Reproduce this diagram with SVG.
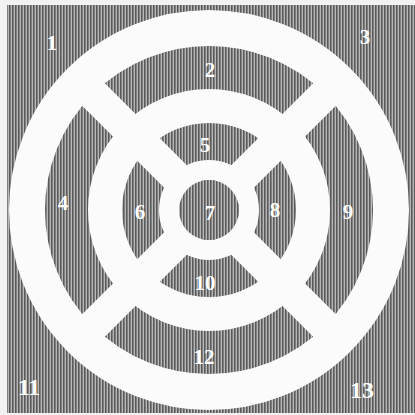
<svg xmlns="http://www.w3.org/2000/svg" width="415" height="415" viewBox="0 0 415 415">
  <defs>
    <pattern id="hatch" width="3" height="3" patternUnits="userSpaceOnUse">
      <rect width="3" height="3" fill="#b8b8b8"/>
      <rect width="1.6" height="3" fill="#5a5a5a"/>
    </pattern>
  </defs>
  <style>
    .ring { fill: none; stroke: #fbfbfb; }
    .bar { stroke: #fbfbfb; stroke-width: 32; stroke-linecap: butt; }
    .lbl { font-family: "Liberation Serif", "DejaVu Serif", serif; font-size: 21px; font-weight: bold; fill: #ffffff; text-anchor: middle; dominant-baseline: central; }
    .big { font-size: 24px; }
  </style>
  <rect x="0" y="0" width="415" height="415" fill="#f2f2f2"/>
  <rect id="background" x="7" y="5" width="408" height="408" fill="url(#hatch)"/>
  <g id="bars">
    <line class="bar" x1="75" y1="76" x2="343" y2="344"/>
    <line class="bar" x1="343" y1="76" x2="75" y2="344"/>
  </g>
  <g id="rings">
    <circle id="outer-ring" class="ring" cx="209" cy="210" r="182" stroke-width="36"/>
    <circle id="middle-ring" class="ring" cx="209" cy="210" r="104" stroke-width="34"/>
    <circle id="inner-ring" class="ring" cx="209" cy="210" r="40" stroke-width="20"/>
  </g>
  <circle id="centre" cx="209" cy="210" r="30" fill="url(#hatch)"/>
  <g id="labels">
    <text class="lbl" x="52" y="43">1</text>
    <text class="lbl" x="210" y="70">2</text>
    <text class="lbl" x="365" y="37">3</text>
    <text class="lbl" x="63" y="203">4</text>
    <text class="lbl" x="205" y="145">5</text>
    <text class="lbl" x="140" y="212">6</text>
    <text class="lbl" x="210" y="213">7</text>
    <text class="lbl" x="275" y="210">8</text>
    <text class="lbl" x="348" y="212">9</text>
    <text class="lbl" x="205" y="283">10</text>
    <text class="lbl big" x="29" y="387">11</text>
    <text class="lbl" x="204" y="357">12</text>
    <text class="lbl big" x="362" y="390">13</text>
  </g>
</svg>
